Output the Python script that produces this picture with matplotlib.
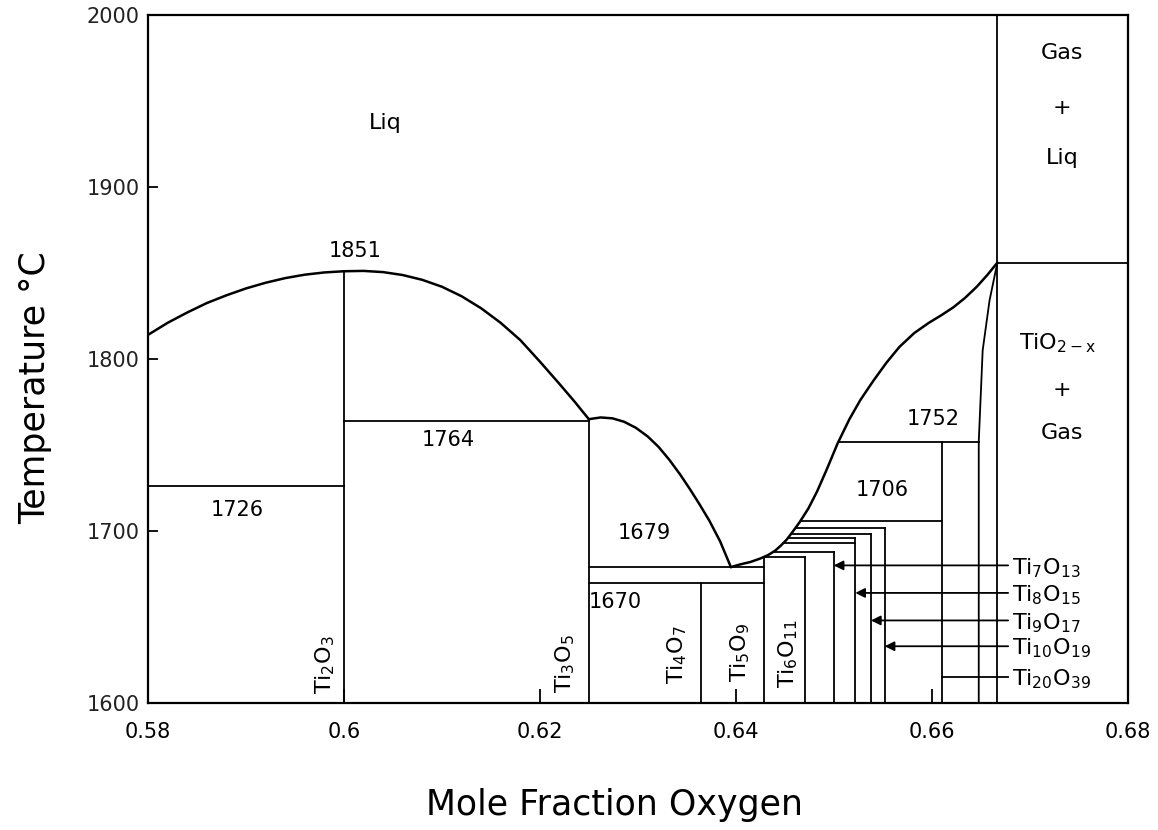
import matplotlib
matplotlib.use("Agg")
import matplotlib.pyplot as plt
import numpy as np

# ---- liquidus branches (mole fraction O, temperature in C) ----
liq_left_x = [0.5800, 0.5820, 0.5840, 0.5860, 0.5880, 0.5900, 0.5920, 0.5940,
              0.5960, 0.5980, 0.6000, 0.6020, 0.6040, 0.6060, 0.6080, 0.6100,
              0.6120, 0.6140, 0.6160, 0.6180, 0.6200, 0.6220, 0.6235, 0.6250]
liq_left_T = [1814, 1821, 1827, 1832.5, 1837, 1841, 1844.3, 1847,
              1849, 1850.3, 1851, 1851.2, 1850.5, 1848.8, 1846, 1842,
              1836.5, 1829.5, 1821, 1811, 1798.5, 1785.5, 1775.5, 1765]

liq_mid_x = [0.6250, 0.6262, 0.6274, 0.6286, 0.6298, 0.6310, 0.6321, 0.6332,
             0.6343, 0.6353, 0.6363, 0.6373, 0.6384, 0.6395]
liq_mid_T = [1765, 1766, 1765.5, 1763.5, 1760, 1755, 1749, 1741.5,
             1733, 1724.5, 1715.5, 1706, 1694, 1679]

liq_right_x = [0.6395, 0.6404, 0.6415, 0.6425, 0.6433, 0.6440, 0.6446, 0.6452,
               0.6458, 0.6465, 0.6474, 0.6483, 0.6493, 0.6504, 0.6516, 0.6527,
               0.6540, 0.6554, 0.6567, 0.6582, 0.6597, 0.6610, 0.6622, 0.6634,
               0.6646, 0.6657, 0.6667]
liq_right_T = [1679, 1680.5, 1682, 1684, 1686, 1688.5, 1691.5, 1695,
               1699.5, 1705, 1713, 1723, 1736, 1751, 1765, 1776,
               1787, 1798, 1807, 1815, 1821, 1825.5, 1830, 1835.5,
               1842, 1849, 1856]

# TiO2-x lower phase boundary
tio2x_x = [0.6648, 0.6648, 0.6652, 0.6659, 0.6667]
tio2x_T = [1600, 1752, 1805, 1834, 1856]

# ---- compound compositions and the tops of their vertical lines ----
phase_x = [0.6000, 0.6250, 0.6364, 0.6429, 0.6471, 0.6500, 0.6522, 0.6538, 0.6552, 0.6610, 0.6667]
phase_top = [1851, 1765, 1670, 1685, 1685, 1688, 1696, 1698, 1702, 1752, 2000]

# ---- isotherms between fixed compositions ----
iso_T = [1726, 1764, 1679, 1670, 1856]
iso_x0 = [0.580, 0.600, 0.625, 0.625, 0.6667]
iso_x1 = [0.600, 0.625, 0.6429, 0.6429, 0.680]

# ---- peritectic steps starting on the right liquidus ----
peri_T = [1685, 1688, 1693, 1696, 1698, 1702, 1706, 1752]
peri_x1 = [0.6471, 0.6500, 0.6522, 0.6522, 0.6538, 0.6552, 0.6610, 0.6648]

# ---- temperature labels ----
temp_labels = ["1851", "1764", "1726", "1679", "1670", "1752", "1706"]
temp_lab_x = [0.6011, 0.6106, 0.5891, 0.6307, 0.6277, 0.6601, 0.6549]
temp_lab_T = [1863, 1753, 1712, 1699, 1659, 1765, 1724]

# ---- rotated compound labels inside the columns ----
col_labels = [r"Ti$_2$O$_3$", r"Ti$_3$O$_5$", r"Ti$_4$O$_7$", r"Ti$_5$O$_9$", r"Ti$_6$O$_{11}$"]
col_lab_x = [0.5981, 0.6226, 0.6340, 0.6404, 0.6454]
col_lab_T = [1605, 1606, 1611, 1612, 1609]

# ---- compound labels with leaders on the right ----
side_labels = [r"Ti$_7$O$_{13}$", r"Ti$_8$O$_{15}$", r"Ti$_9$O$_{17}$",
               r"Ti$_{10}$O$_{19}$", r"Ti$_{20}$O$_{39}$"]
side_T = [1680, 1664, 1648, 1633, 1615]
side_target = [0.6500, 0.6522, 0.6538, 0.6552, 0.6610]
side_arrow = [True, True, True, True, False]

# ---- phase field labels ----
field_labels = ["Liq", "Gas", "+", "Liq", r"TiO$_{\mathrm{2-x}}$", "+", "Gas"]
field_x = [0.6042, 0.6733, 0.6733, 0.6733, 0.6728, 0.6733, 0.6733]
field_T = [1937, 1978, 1946, 1917, 1809, 1782, 1757]

x_ticks = [0.58, 0.60, 0.62, 0.64, 0.66, 0.68]
x_ticklabels = ["0.58", "0.6", "0.62", "0.64", "0.66", "0.68"]
y_ticks = [1600, 1700, 1800, 1900, 2000]

plt.rcParams["font.family"] = ["DejaVu Sans"]
plt.rcParams["mathtext.fontset"] = "dejavusans"

fig = plt.figure(figsize=(11.58, 8.30), dpi=100)
ax = fig.add_axes([0.1278, 0.153, 0.846, 0.829])

lw_curve = 1.8
lw_line = 1.3
k = "black"

for xs, ts in ((liq_left_x, liq_left_T), (liq_mid_x, liq_mid_T), (liq_right_x, liq_right_T)):
    ax.plot(xs, ts, color=k, lw=lw_curve, solid_capstyle="round", solid_joinstyle="round")
ax.plot(tio2x_x, tio2x_T, color=k, lw=lw_line)

for x, top in zip(phase_x, phase_top):
    ax.plot([x, x], [1600, top], color=k, lw=lw_line)

for T, x0, x1 in zip(iso_T, iso_x0, iso_x1):
    ax.plot([x0, x1], [T, T], color=k, lw=lw_line)

for T, x1 in zip(peri_T, peri_x1):
    x0 = np.interp(T, liq_right_T, liq_right_x)
    ax.plot([x0, x1], [T, T], color=k, lw=lw_line)

for s, x, T in zip(temp_labels, temp_lab_x, temp_lab_T):
    ax.text(x, T, s, fontsize=15, ha="center", va="center")

for s, x, T in zip(col_labels, col_lab_x, col_lab_T):
    ax.text(x, T, s, fontsize=16, rotation=90, ha="center", va="bottom")

x_lead = 0.6678
for s, T, tgt, arr in zip(side_labels, side_T, side_target, side_arrow):
    if arr:
        ax.annotate("", xy=(tgt, T), xytext=(x_lead, T),
                    arrowprops=dict(arrowstyle="-|>", color=k, lw=lw_line,
                                    mutation_scale=14, shrinkA=0, shrinkB=0))
    else:
        ax.plot([tgt, x_lead], [T, T], color=k, lw=lw_line)
    ax.text(x_lead + 0.0004, T - 5, s, fontsize=16, ha="left", va="baseline")

for s, x, T in zip(field_labels, field_x, field_T):
    ax.text(x, T, s, fontsize=16, ha="center", va="center")

ax.set_xlim(0.58, 0.68)
ax.set_ylim(1600, 2000)
ax.set_xticks(x_ticks)
ax.set_xticklabels(x_ticklabels)
ax.set_yticks(y_ticks)
ax.tick_params(axis="x", direction="in", length=10, width=1.3, pad=14, labelsize=15)
ax.tick_params(axis="y", direction="in", length=7, width=1.3, pad=6, labelsize=15,
               labelcolor="#222222")
for sp in ax.spines.values():
    sp.set_linewidth(1.6)

fig.text(0.030, 0.5325, "Temperature \u00b0C", rotation=90, fontsize=25,
         ha="center", va="center")
fig.text(0.531, 0.030, "Mole Fraction Oxygen", fontsize=25, ha="center", va="center")

fig.savefig("out.png", dpi=100)
